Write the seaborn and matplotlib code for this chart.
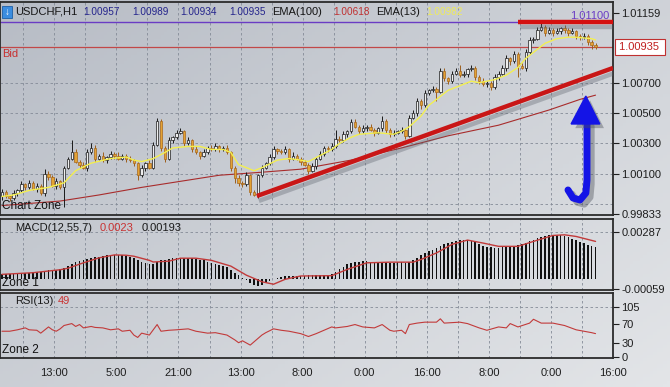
import numpy as np
import pandas as pd
import matplotlib
matplotlib.use("Agg")
import matplotlib.pyplot as plt
import matplotlib.patheffects as pe
from matplotlib.colors import LinearSegmentedColormap
import seaborn as sns

# ---- values ----
first_open = 0.9995
closes = [
    0.9998, 0.9995, 0.9994, 0.9997, 0.9999, 1.0003, 1.0001, 1.0004, 1.0000, 1.0002,
    0.9997, 1.0010, 1.0008, 1.0002, 1.0005, 1.0001, 1.0014, 1.0020, 1.0024, 1.0018,
    1.0016, 1.0014, 1.0024, 1.0027, 1.0020, 1.0022, 1.0019, 1.0021, 1.0023, 1.0022,
    1.0020, 1.0022, 1.0020, 1.0019, 1.0017, 1.0009, 1.0014, 1.0017, 1.0014, 1.0029,
    1.0045, 1.0027, 1.0020, 1.0032, 1.0034, 1.0037, 1.0038, 1.0030, 1.0032, 1.0026,
    1.0024, 1.0022, 1.0024, 1.0027, 1.0026, 1.0028, 1.0026, 1.0027, 1.0024, 1.0014,
    1.0007, 1.0004, 1.0003, 1.0009, 0.9998, 0.9996, 1.0009, 1.0014, 1.0017, 1.0021,
    1.0026, 1.0025, 1.0024, 1.0026, 1.0020, 1.0022, 1.0020, 1.0018, 1.0016, 1.0012,
    1.0015, 1.0020, 1.0023, 1.0027, 1.0026, 1.0028, 1.0033, 1.0032, 1.0036, 1.0038,
    1.0044, 1.0041, 1.0038, 1.0040, 1.0041, 1.0039, 1.0037, 1.0040, 1.0045, 1.0039,
    1.0036, 1.0037, 1.0038, 1.0039, 1.0035, 1.0047, 1.0050, 1.0058, 1.0055, 1.0063,
    1.0065, 1.0066, 1.0064, 1.0078, 1.0073, 1.0071, 1.0076, 1.0078, 1.0075, 1.0076,
    1.0079, 1.0080, 1.0074, 1.0071, 1.0069, 1.0070, 1.0067, 1.0074, 1.0076, 1.0080,
    1.0086, 1.0084, 1.0089, 1.0081, 1.0080, 1.0090, 1.0098, 1.0099, 1.0105, 1.0107,
    1.0103, 1.0105, 1.0103, 1.0104, 1.0106, 1.0105, 1.0103, 1.0104, 1.0101, 1.0100,
    1.0101, 1.0097, 1.0095, 1.00935,
]
# wick lengths above / below the body, in pips
upper_wick_pips = [
    2, 1, 1, 2, 1, 2, 1, 2, 1, 2, 1, 3, 2, 1, 2, 1,
    1, 1, 8, 2, 1, 2, 2, 3, 2, 1, 2, 1, 2, 1, 2, 1,
    1, 2, 1, 1, 2, 1, 2, 2, 2, 1, 1, 2, 1, 2, 2, 1,
    2, 1, 2, 1, 2, 1, 2, 2, 1, 1, 2, 1, 1, 2, 1, 2,
    1, 1, 1, 2, 1, 2, 2, 1, 1, 2, 1, 2, 1, 1, 1, 1,
    2, 1, 2, 1, 1, 2, 6, 2, 2, 1, 2, 2, 1, 2, 1, 2,
    1, 1, 3, 1, 1, 2, 1, 2, 1, 2, 2, 2, 1, 2, 1, 2,
    1, 2, 2, 1, 2, 2, 4, 2, 1, 2, 1, 1, 2, 1, 1, 2,
    2, 2, 2, 1, 2, 1, 2, 2, 2, 1, 2, 3, 1, 2, 1, 2,
    1, 2, 1, 2, 1, 1, 2, 1, 1, 1,
]
lower_wick_pips = [
    2, 1, 2, 1, 2, 1, 2, 1, 1, 2, 1, 2, 2, 1, 2, 1,
    13, 1, 1, 1, 2, 1, 2, 1, 2, 1, 1, 2, 1, 2, 1, 1,
    2, 1, 2, 3, 1, 2, 1, 1, 1, 2, 2, 1, 2, 1, 1, 2,
    1, 2, 1, 2, 1, 1, 1, 1, 2, 1, 1, 2, 3, 2, 2, 1,
    2, 1, 2, 1, 1, 1, 1, 2, 1, 1, 2, 1, 1, 2, 1, 2,
    1, 2, 1, 1, 2, 1, 1, 1, 1, 2, 1, 1, 2, 1, 2, 1,
    2, 1, 2, 2, 2, 1, 1, 1, 2, 1, 1, 2, 2, 1, 1, 1,
    6, 1, 2, 2, 1, 1, 1, 1, 2, 1, 2, 2, 1, 2, 2, 1,
    2, 1, 2, 2, 1, 7, 1, 2, 1, 2, 1, 1, 2, 1, 2, 1,
    2, 2, 2, 1, 2, 2, 1, 2, 3, 1,
]

ema13_bars = [0, 3, 7, 12, 16, 19, 23, 28, 32, 34, 36, 39, 42, 44, 48, 51, 54, 57, 59, 61,
              65, 67, 71, 74, 77, 79, 82, 85, 87, 90, 92, 97, 101, 103, 105, 108, 110, 113,
              115, 118, 121, 123, 127, 130, 133, 135, 138, 140, 143, 146, 148, 152, 153]
ema13_vals = [0.9995, 0.9996, 0.9999, 1.0001, 1.0004, 1.0012, 1.0017, 1.0020, 1.0021, 1.0019,
              1.0018, 1.0020, 1.0024, 1.0027, 1.0028, 1.0028, 1.0026, 1.0026, 1.0024, 1.0016,
              1.0012, 1.0014, 1.0019, 1.0020, 1.0019, 1.0018, 1.0022, 1.0026, 1.0030, 1.0034,
              1.0036, 1.0037, 1.0036, 1.0038, 1.0041, 1.0048, 1.0055, 1.0061, 1.0065, 1.0068,
              1.0071, 1.0070, 1.0072, 1.0075, 1.0080, 1.0086, 1.0092, 1.0096, 1.0099, 1.0100,
              1.0100, 1.0099, 1.00982]
ema100_bars = [0, 15, 25, 36, 46, 56, 67, 77, 90, 103, 115, 128, 141, 149, 153]
ema100_vals = [0.9989, 0.9992, 0.9996, 1.0001, 1.0005, 1.0009, 1.0011, 1.0013, 1.0019,
               1.0027, 1.0035, 1.0042, 1.0052, 1.0059, 1.00618]

# MACD(12,55,7) histogram, in points (0.00001)
macd_hist_pts = [
    30, 30, 32, 33, 35, 36, 38, 40, 42, 44,
    46, 50, 54, 56, 58, 60, 70, 82, 95, 105, 112, 118,
    125, 130, 135, 138, 142, 145, 148, 150, 150, 148, 142, 135, 128,
    115, 105, 98, 92, 90, 105, 115, 120, 125, 128, 130, 132, 132, 130,
    128, 125, 120, 115, 108, 100, 95, 88, 80, 72, 55, 40, 25, 10, -5,
    -20, -35, -40, -35, -20, -10, 0, 10, 15, 18, 20, 20, 22, 22,
    22, 24, 25, 25, 25, 26, 28, 30, 45, 60, 75, 90,
    100, 105, 108, 110, 110, 108, 105, 104, 106, 104, 100, 100, 102, 103, 100, 105,
    120, 132, 145, 160, 170, 178, 190, 205, 215, 222,
    228, 232, 236, 238, 238, 232, 225, 215, 205,
    198, 195, 192, 192, 195, 196, 198, 205, 210, 212, 218,
    230, 240, 250, 258, 265, 268, 270, 270, 268, 262, 255, 245, 238,
    228, 218, 208, 200, 193,
]
signal_bars = [0, 8, 15, 17, 21, 25, 29, 32, 34, 38, 39, 43, 46, 50, 54, 59, 63, 67, 70, 73,
               77, 85, 89, 94, 100, 106, 108, 112, 116, 120, 124, 128, 133, 137, 142, 145, 148, 153]
signal_pts = [30, 40, 58, 67, 100, 130, 148, 146, 140, 115, 105, 110, 128, 128, 115, 80, 25, -15, -30, 0,
              20, 22, 60, 100, 104, 104, 120, 160, 212, 238, 220, 200, 200, 230, 266, 270, 260, 230]

rsi_bars = [0, 2, 4, 6, 7, 9, 10, 12, 13, 14, 15, 16, 18, 19, 20, 21, 23, 24, 26, 28,
            30, 31, 33, 34, 35, 36, 38, 39, 40, 41, 43, 45, 48, 50, 53, 55, 58, 60, 61, 62,
            64, 65, 67, 68, 70, 72, 74, 77, 79, 81, 83, 85, 86, 89, 91, 93, 96, 98, 100, 101,
            103, 104, 105, 107, 109, 112, 113, 114, 118, 120, 123, 125, 128, 130, 131, 133,
            136, 137, 139, 142, 145, 148, 150, 152, 153]
rsi_vals = [54, 54, 57, 61, 57, 56, 50, 63, 57, 54, 59, 66, 70, 64, 68, 61, 64, 62, 61, 57,
            59, 54, 56, 46, 41, 50, 46, 57, 68, 54, 56, 57, 59, 54, 50, 51, 46, 36, 30, 34,
            25, 32, 46, 51, 59, 56, 54, 49, 43, 49, 56, 63, 61, 64, 68, 63, 61, 68, 56, 54,
            56, 49, 68, 71, 73, 73, 80, 71, 73, 70, 61, 56, 63, 61, 70, 63,
            71, 79, 71, 71, 66, 57, 54, 51, 49]

time_labels = ["13:00", "5:00", "21:00", "13:00", "8:00", "0:00", "16:00", "8:00", "0:00", "16:00"]
price_ticks = [0.99833, 1.00100, 1.00300, 1.00500, 1.00700, 1.01159]
price_grid = [0.99900, 1.00100, 1.00300, 1.00500, 1.00700]
macd_ticks = [-0.00059, 0.00287]
rsi_ticks = [0, 30, 70, 105]

bid_price = 1.00935
level_price = 1.01100
resistance_bars = [133, 157.5]
trend_bars = [65.7, 157.5]
trend_prices = [0.99953, 1.00797]
arrow_shaft_bars = [145.9, 147.2, 149.0, 150.5, 150.8, 150.8]
arrow_shaft_prices = [0.99993, 0.99940, 0.99927, 0.99973, 1.00059, 1.00440]
arrow_head_bars = [150.5, 146.7, 154.1]
arrow_head_prices = [1.00612, 1.00428, 1.00428]

# ---- build OHLC table ----
df = pd.DataFrame({"close": closes, "up_w": upper_wick_pips, "lo_w": lower_wick_pips})
df["bar"] = np.arange(len(df))
df["open"] = [first_open] + closes[:-1]
df["top"] = df[["open", "close"]].max(axis=1)
df["bot"] = df[["open", "close"]].min(axis=1)
df["high"] = df["top"] + df["up_w"] / 1e4
df["low"] = df["bot"] - df["lo_w"] / 1e4
df["bull"] = df["close"] >= df["open"]

sns.set_style("white")
plt.rcParams["font.family"] = ["Liberation Sans", "DejaVu Sans"]

W, H = 670, 387
fig = plt.figure(figsize=(W / 100, H / 100), dpi=100)


def box(x0, y0, x1, y1):
    return [x0 / W, 1 - y1 / H, (x1 - x0) / W, (y1 - y0) / H]


# soft grey gradient behind everything
bg = fig.add_axes([0, 0, 1, 1], zorder=-5)
gx, gy = np.meshgrid(np.linspace(0, 1, 200), np.linspace(0, 1, 120))
bg.imshow(0.55 * gx + 0.45 * gy, aspect="auto", extent=[0, 1, 0, 1], origin="upper",
          cmap=LinearSegmentedColormap.from_list("bgc", ["#b7bcc5", "#e3e5e8"]))
bg.axis("off")

ax = fig.add_axes(box(0, 2, 613, 215))
ax2 = fig.add_axes(box(0, 219, 613, 290), sharex=ax)
ax3 = fig.add_axes(box(0, 293, 613, 358), sharex=ax)

grid_kw = dict(color="#848b97", lw=0.6, ls=(0, (3, 3)), zorder=0)
grid_x = np.arange(5.5, 157.5, 8)
for a in (ax, ax2, ax3):
    a.set_facecolor("none")
    for s in a.spines.values():
        s.set_color("#2b2b2b")
        s.set_linewidth(1.3)
    for gxv in grid_x:
        a.axvline(gxv, **grid_kw)
    a.yaxis.tick_right()
    a.tick_params(axis="y", direction="out", length=4, width=0.8, pad=2,
                  labelsize=8, colors="#1e1e1e")
    a.tick_params(axis="x", length=0, labelbottom=False)
    a.set_xlabel("")
    a.set_ylabel("")
ax.set_xlim(-0.5, 157.5)

shadow = [pe.SimpleLineShadow(offset=(1.5, -3.5), shadow_color="#5a606a", alpha=0.35), pe.Normal()]

# ---- main price panel ----
ax.set_ylim(0.99828, 1.01232)
for gp in price_grid:
    ax.axhline(gp, **grid_kw)
ax.set_yticks(price_ticks)
ax.set_yticklabels([f"{p:.5f}" for p in price_ticks])

ax.axhline(level_price, color="#6a3cc4", lw=1.0, zorder=1)
ax.text(156.5, level_price + 0.00005, "1.01100", color="#6a3cc4", fontsize=8,
        ha="right", va="bottom", zorder=1)
ax.axhline(bid_price, color="#c24848", lw=0.9, zorder=1)
ax.text(0.003, bid_price - 0.0001, "Bid", transform=ax.get_yaxis_transform(),
        color="#c83030", fontsize=8, ha="left", va="top")
ax.text(1.009, bid_price, "1.00935 ", transform=ax.get_yaxis_transform(), color="#c02020",
        fontsize=8, ha="left", va="center", clip_on=False,
        bbox=dict(boxstyle="square,pad=0.3", fc="white", ec="#c03030", lw=0.8))

sns.lineplot(x=ema100_bars, y=ema100_vals, ax=ax, color="#a82c2c", linewidth=0.8, zorder=2)

bull = df[df["bull"]]
bear = df[~df["bull"]]
ax.vlines(bull["bar"], bull["low"], bull["high"], color="#1a1a1a", lw=0.7, zorder=3)
ax.vlines(bear["bar"], bear["low"], bear["high"], color="#9c5e1c", lw=0.7, zorder=3)
ax.bar(bull["bar"], np.maximum(bull["top"] - bull["bot"], 0.00003), bottom=bull["bot"],
       width=0.62, color="#eeeeee", edgecolor="#1a1a1a", linewidth=0.5, zorder=3)
ax.bar(bear["bar"], np.maximum(bear["top"] - bear["bot"], 0.00003), bottom=bear["bot"],
       width=0.62, color="#e3a334", edgecolor="#a8671c", linewidth=0.5, zorder=3)

sns.lineplot(x=ema13_bars, y=ema13_vals, ax=ax, color="#f3ef50", linewidth=1.0, zorder=4)

ax.plot(trend_bars, trend_prices, color="#c91616", lw=3.2, solid_capstyle="butt",
        path_effects=shadow, zorder=5)
ax.plot(resistance_bars, [level_price, level_price], color="#d41010", lw=3.2,
        solid_capstyle="butt", path_effects=shadow, zorder=5)

ax.plot(arrow_shaft_bars, arrow_shaft_prices, color="#1414e6", lw=5, solid_capstyle="round",
        solid_joinstyle="round", zorder=6,
        path_effects=[pe.SimpleLineShadow(offset=(3, -3), shadow_color="#4a4f58", alpha=0.4),
                      pe.Normal()])
ax.fill(arrow_head_bars, arrow_head_prices, color="#1414e6", zorder=6,
        path_effects=[pe.SimplePatchShadow(offset=(3, -3), shadow_rgbFace="#4a4f58", alpha=0.4),
                      pe.Normal()])

ax.text(0.004, 0.012, "Chart Zone", transform=ax.transAxes, fontsize=8.5, color="#111111",
        ha="left", va="bottom")

# ---- MACD panel ----
ax2.set_ylim(-0.00065, 0.00366)
ax2.axhline(0.00287, **grid_kw)
ax2.bar(df["bar"], np.array(macd_hist_pts) / 1e5, width=0.42, color="#111111",
        edgecolor="none", linewidth=0, zorder=2)
sns.lineplot(x=signal_bars, y=np.array(signal_pts) / 1e5, ax=ax2, color="#c23a3a",
             linewidth=1.0, zorder=3)
ax2.set_yticks(macd_ticks)
ax2.set_yticklabels(["-0.00059", "0.00287"])
ax2.text(15 / 613, 1 - 9 / 71, "MACD(12,55,7)", transform=ax2.transAxes, fontsize=8,
         color="#1a1a1a", va="center")
ax2.text(100 / 613, 1 - 9 / 71, "0.0023", transform=ax2.transAxes, fontsize=8,
         color="#c83232", va="center")
ax2.text(142 / 613, 1 - 9 / 71, "0.00193", transform=ax2.transAxes, fontsize=8,
         color="#1a1a1a", va="center")
ax2.text(0.004, 0.02, "Zone 1", transform=ax2.transAxes, fontsize=8.5, color="#111111",
         ha="left", va="bottom")

# ---- RSI panel ----
ax3.set_ylim(-2, 134)
ax3.axhline(105, **grid_kw)
sns.lineplot(x=rsi_bars, y=rsi_vals, ax=ax3, color="#c23a3a", linewidth=0.8, zorder=3)
ax3.set_yticks(rsi_ticks)
ax3.set_yticklabels([str(v) for v in rsi_ticks])
ax3.text(15 / 613, 1 - 8 / 65, "RSI(13)", transform=ax3.transAxes, fontsize=8,
         color="#1a1a1a", va="center")
ax3.text(58 / 613, 1 - 8 / 65, "49", transform=ax3.transAxes, fontsize=8,
         color="#c83232", va="center")
ax3.text(0.004, 0.03, "Zone 2", transform=ax3.transAxes, fontsize=8.5, color="#111111",
         ha="left", va="bottom")
ax3.set_xticks(np.arange(13.5, 158, 16))
ax3.set_xticklabels(time_labels)
ax3.tick_params(axis="x", labelbottom=True, length=0, pad=7, labelsize=8, colors="#1e1e1e")
ax3.set_xlim(-0.5, 157.5)

# ---- header line ----
ty = 1 - 12 / H
fig.patches.append(plt.Rectangle((2 / W, 1 - 18 / H), 10 / W, 12 / H, transform=fig.transFigure,
                                 facecolor="#3b8de0", edgecolor="#1c5fa8", lw=0.6))
fig.text(7 / W, ty, "\u2193", color="white", fontsize=7, fontweight="bold",
         ha="center", va="center")
header_words = [(15, "USDCHF,H1", "#151515"), (272, "EMA(100)", "#151515"),
                (376, "EMA(13)", "#151515")]
header_nums = [(83, "1.00957", "#24248c"), (132, "1.00989", "#24248c"),
               (180, "1.00934", "#24248c"), (229, "1.00935", "#24248c"),
               (333, "1.00618", "#c03030"), (426, "1.00982", "#efec5a")]
for hx, txt, col in header_words:
    fig.text(hx / W, ty, txt, color=col, fontsize=8, ha="left", va="center")
for hx, txt, col in header_nums:
    fig.text(hx / W, ty, txt, color=col, fontsize=7.2, ha="left", va="center")

fig.savefig("out.png", dpi=100)
